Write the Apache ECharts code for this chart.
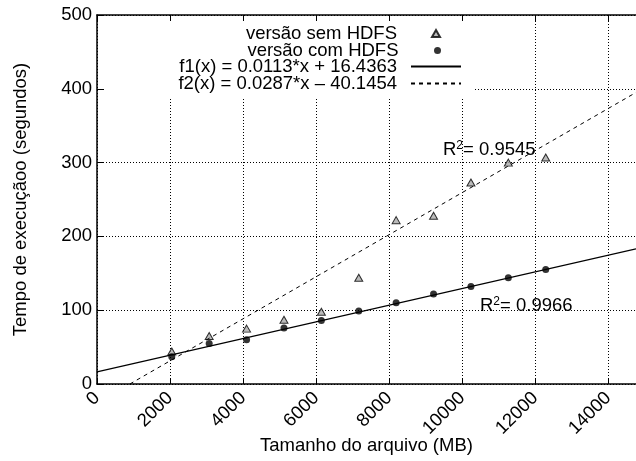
<!DOCTYPE html>
<html>
<head>
<meta charset="UTF-8">
<title>Tempo de execução x Tamanho do arquivo</title>
<script src="https://cdn.jsdelivr.net/npm/echarts@6/dist/echarts.min.js"></script>
<style>body{margin:0;background:#fff;}</style>
</head>
<body>
<div id="main" style="width:636px;height:461px;"></div>
<script>
// tamanho dos arquivos (MB)
var tamanhos = [2048, 3072, 4096, 5120, 6144, 7168, 8192, 9216, 10240, 11264, 12288];
// tempos medidos (segundos)
var semHdfs = [44, 65, 75, 87, 98, 144, 222, 228, 273, 300, 307];
var comHdfs = [37, 55, 60, 76, 86, 99, 110, 122, 132, 144, 155];
// retas ajustadas, pontos extremos visiveis
var f1Pontos = [[0, 16.4], [14760, 183.2]];
var f2Pontos = [[900, 0], [14760, 395]];
var nomes = ['versão sem HDFS', 'versão com HDFS', 'f1(x) = 0.0113*x + 16.4363', 'f2(x) = 0.0287*x \u2013 40.1454'];
var r2 = ['0.9545', '0.9966'];

var fonte = 'Liberation Sans';
var fs = 18.5;

function pares(xs, ys){
	return xs.map(function(x, i){ return [x, ys[i]]; });
}
function numero(v){ return String(v); }

var chart = echarts.init(document.getElementById('main'));

// simbolo: icone pequeno centrado em x=437; linha: 412..462
function legenda(nome, top, simbolo){
	var l = {
		data: [nome],
		top: top,
		align: 'right',
		padding: 0,
		selectedMode: false,
		z: 10,
		textStyle: {color: '#000', fontSize: fs, fontFamily: fonte}
	};
	if (simbolo) {
		l.right = 636 - 441;
		l.itemWidth = 8;
		l.itemHeight = 7;
		l.textStyle.padding = [0, 30, 0, 0];
	} else {
		l.right = 636 - 462;
		l.itemWidth = 50;
		l.itemHeight = 10;
		l.itemStyle = {opacity: 0};
		l.textStyle.padding = [0, 9, 0, 0];
	}
	return l;
}

function r2Texto(v, x, y){
	return {
		type: 'text', x: x, y: y, z: 10,
		style: {
			text: '{r|R}{s|2}{r|= ' + v + '}',
			verticalAlign: 'middle',
			rich: {
				r: {fontSize: fs, fontFamily: fonte, fill: '#000'},
				s: {fontSize: 12, fontFamily: fonte, fill: '#000', padding: [0, 0, 9, 0]}
			}
		}
	};
}

var eixoX = {
	type: 'value', min: 0, max: 14760, interval: 2000,
	axisLine: {lineStyle: {color: '#000', width: 1.5}},
	axisTick: {inside: true, length: 6, lineStyle: {color: '#000'}},
	splitLine: {show: true, lineStyle: {color: '#000', type: [1, 2], width: 1}}
};

var option = {
	animation: false,
	backgroundColor: '#fff',
	grid: {left: 97, right: 0, top: 15, bottom: 77, containLabel: false, outerBoundsMode: 'none'},
	legend: [
		legenda(nomes[0], 24, true),
		legenda(nomes[1], 41, true),
		legenda(nomes[2], 57, false),
		legenda(nomes[3], 74, false)
	],
	xAxis: [
		Object.assign({}, eixoX, {
			name: 'Tamanho do arquivo (MB)',
			nameLocation: 'middle',
			nameGap: 52,
			nameMoveOverlap: false,
			nameTextStyle: {color: '#000', fontSize: fs, fontFamily: fonte},
			axisLabel: {rotate: 45, color: '#000', fontSize: fs, fontFamily: fonte, margin: 11, showMaxLabel: false, formatter: numero}
		}),
		Object.assign({}, eixoX, {
			position: 'top', z: 6,
			axisLabel: {show: false},
			splitLine: {show: false}
		})
	],
	yAxis: {
		type: 'value', min: 0, max: 500, interval: 100,
		name: 'Tempo de execuçãoo (segundos)',
		nameLocation: 'middle',
		nameGap: 67,
		nameMoveOverlap: false,
		nameTextStyle: {color: '#000', fontSize: fs, fontFamily: fonte},
		axisLine: {lineStyle: {color: '#000', width: 1.5}},
		axisTick: {inside: true, length: 6, lineStyle: {color: '#000'}},
		axisLabel: {color: '#000', fontSize: fs, fontFamily: fonte, margin: 5, formatter: numero},
		splitLine: {show: true, lineStyle: {color: '#000', type: [1, 2], width: 1}}
	},
	graphic: [
		{type: 'rect', shape: {x: 104, y: 16, width: 369, height: 81}, style: {fill: '#fff'}, z: 5},
		r2Texto(r2[0], 443, 150),
		r2Texto(r2[1], 480, 306)
	],
	series: [
		{
			name: nomes[0], type: 'scatter', data: pares(tamanhos, semHdfs),
			symbol: 'triangle', symbolSize: [8, 7],
			itemStyle: {color: '#aaa', borderColor: '#000', borderWidth: 1}
		},
		{
			name: nomes[1], type: 'scatter', data: pares(tamanhos, comHdfs),
			symbol: 'circle', symbolSize: 7,
			itemStyle: {color: '#000'}
		},
		{
			name: nomes[2], type: 'line', data: f1Pontos, symbol: 'none',
			itemStyle: {color: '#000'},
			lineStyle: {color: '#000', width: 1.2}
		},
		{
			name: nomes[3], type: 'line', data: f2Pontos, symbol: 'none',
			itemStyle: {color: '#000'},
			lineStyle: {color: '#000', width: 1, type: [4, 4]}
		}
	]
};
chart.setOption(option);
</script>
</body>
</html>
